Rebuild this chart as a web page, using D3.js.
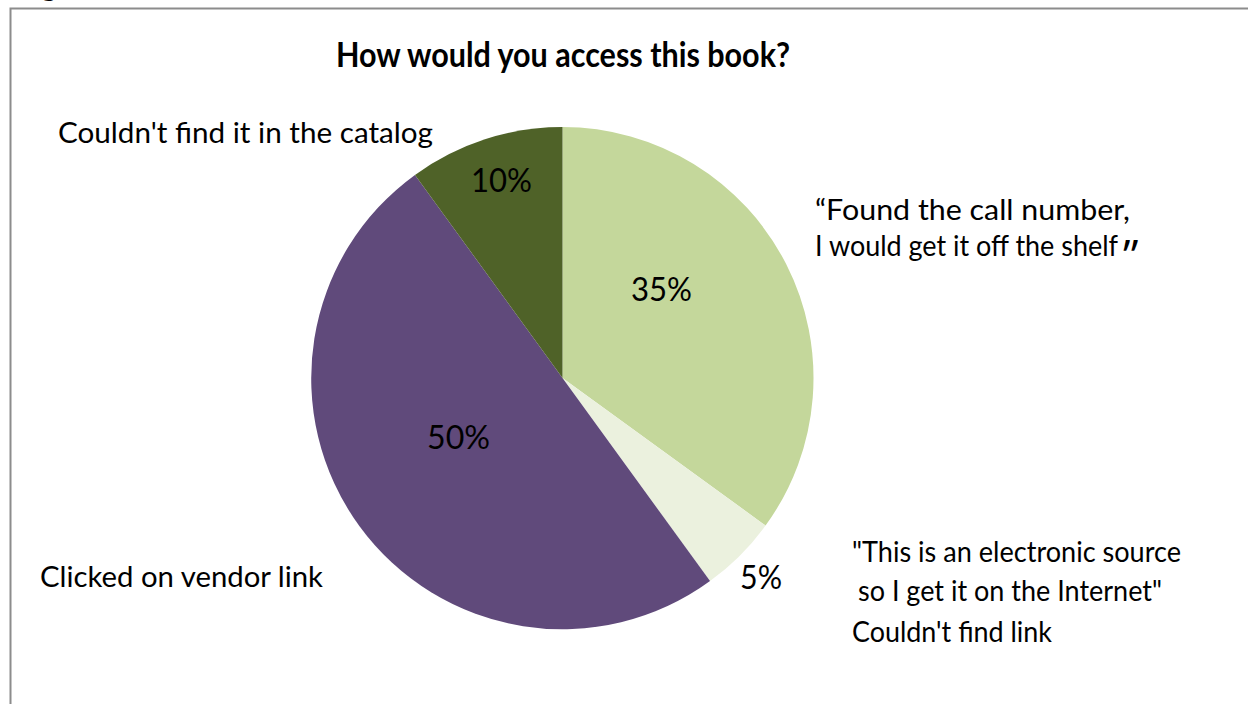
<!DOCTYPE html>
<html>
<head>
<meta charset="utf-8">
<script src="https://cdn.jsdelivr.net/npm/d3@7/dist/d3.min.js"></script>
<style>
  html, body { margin: 0; padding: 0; background: #fff; }
  svg { display: block; }
  text { font-family: Lato, "Open Sans", sans-serif; fill: #000; }
</style>
</head>
<body>
<svg id="chart" width="1248" height="704"></svg>
<script>
// ---- data ----
const title = "How would you access this book?";
const categories = [
  "Found the call number, I would get it off the shelf",
  "This is an electronic source so I get it on the Internet / Couldn't find link",
  "Clicked on vendor link",
  "Couldn't find it in the catalog"
];
const values = [35, 5, 50, 10];
const percentLabels = ["35%", "5%", "50%", "10%"];
const colors = ["#C4D79B", "#EBF1DE", "#604A7B", "#4F6228"];

// ---- layout ----
const W = 1248, H = 704;
const cx = 562.5, cy = 378, R = 251;
const svg = d3.select("#chart");

// frame
svg.append("path")
  .attr("d", `M10.5,${H + 5} L10.5,8.5 L${W + 5},8.5`)
  .attr("fill", "none").attr("stroke", "#8c8c8c").attr("stroke-width", 2);
// clipped glyph from slide header above
svg.append("text").attr("x", 40).attr("y", -5)
  .style("font-weight", "bold").style("font-size", "34px").text("g");

// text helper: fixed font size, stretched/compressed to the target width
function label(x, y, str, size, width, opts = {}) {
  const e = svg.append("text").attr("x", x).attr("y", y)
    .style("font-size", size + "px")
    .attr("text-anchor", opts.anchor || "start")
    .text(str);
  if (opts.bold) e.style("font-weight", "bold");
  if (width) e.attr("textLength", width).attr("lengthAdjust", "spacingAndGlyphs");
  return e;
}

// pie
const pie = d3.pie().sort(null).value(d => d)(values);
const arc = d3.arc().innerRadius(0).outerRadius(R);
const g = svg.append("g").attr("transform", `translate(${cx},${cy})`);
g.selectAll("path").data(pie).join("path")
  .attr("d", arc)
  .attr("fill", (d, i) => colors[i]);

// title
label(563, 67, title, 33.5, 454, { anchor: "middle", bold: true });

// percent labels (positions in a separate layout table)
const pctPos = [
  { x: 661.5, y: 301, w: 61 },
  { x: 761, y: 589, w: 42 },
  { x: 458.5, y: 449, w: 63 },
  { x: 501.5, y: 192, w: 61 }
];
percentLabels.forEach((s, i) => {
  const p = pctPos[i];
  label(p.x, p.y, s, 33, p.w, { anchor: "middle" });
});

// category labels
const fs = 29;
label(815, 220, "\u201CFound the call number,", fs, 315);
const l2 = svg.append("text").attr("x", 815).attr("y", 256).style("font-size", fs + "px");
l2.append("tspan").attr("textLength", 303).attr("lengthAdjust", "spacingAndGlyphs")
  .text("I would get it off the shelf");
l2.append("tspan").attr("dx", 5).attr("dy", 15)
  .style("font-family", "'Open Sans', sans-serif").style("font-weight", 400)
  .style("font-size", "44px").text("\u201D");

label(852, 562, "\"This is an electronic source", fs, 329);
label(858, 601, "so I get it on the Internet\"", fs, 304);
label(852, 642, "Couldn't find link", fs, 200);

label(40, 587, "Clicked on vendor link", fs, 283);
label(58, 143, "Couldn't find it in the catalog", fs, 375);
</script>
</body>
</html>
